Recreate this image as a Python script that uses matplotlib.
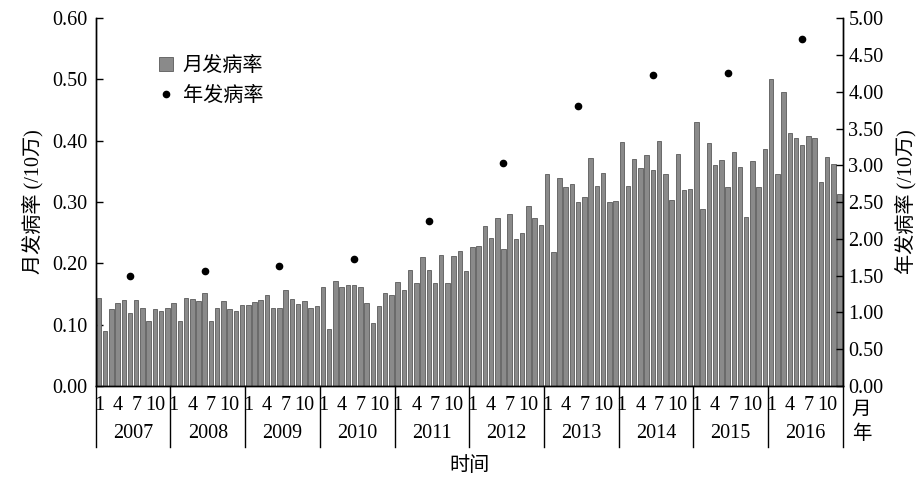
import numpy as np
import matplotlib
matplotlib.use("Agg")
import matplotlib.pyplot as plt
from matplotlib.patches import Patch
from matplotlib.lines import Line2D
import matplotlib.transforms as mtransforms

# Monthly incidence (per 100k), Jan..Dec for each year
years = [2007, 2008, 2009, 2010, 2011, 2012, 2013, 2014, 2015, 2016]
monthly_rate = {
    2007: [0.144, 0.090, 0.125, 0.135, 0.141, 0.119, 0.141, 0.128, 0.106, 0.125, 0.122, 0.128],
    2008: [0.135, 0.106, 0.144, 0.142, 0.139, 0.152, 0.106, 0.127, 0.139, 0.125, 0.123, 0.132],
    2009: [0.132, 0.137, 0.141, 0.149, 0.127, 0.127, 0.157, 0.142, 0.133, 0.138, 0.128, 0.130],
    2010: [0.162, 0.093, 0.171, 0.162, 0.165, 0.164, 0.162, 0.135, 0.103, 0.130, 0.152, 0.149],
    2011: [0.170, 0.156, 0.189, 0.168, 0.210, 0.189, 0.168, 0.213, 0.168, 0.212, 0.220, 0.188],
    2012: [0.227, 0.229, 0.261, 0.241, 0.274, 0.223, 0.280, 0.240, 0.250, 0.293, 0.274, 0.262],
    2013: [0.345, 0.219, 0.339, 0.325, 0.329, 0.300, 0.308, 0.372, 0.327, 0.348, 0.300, 0.302],
    2014: [0.398, 0.326, 0.370, 0.355, 0.377, 0.353, 0.400, 0.345, 0.303, 0.378, 0.320, 0.321],
    2015: [0.431, 0.288, 0.396, 0.361, 0.369, 0.325, 0.381, 0.358, 0.275, 0.367, 0.325, 0.387],
    2016: [0.501, 0.345, 0.479, 0.412, 0.405, 0.393, 0.407, 0.405, 0.333, 0.374, 0.362, 0.313],
}
# Annual incidence (per 100k)
annual_rate = [1.50, 1.56, 1.63, 1.73, 2.24, 3.03, 3.80, 4.23, 4.26, 4.72]
month_labels = ["1", "4", "7", "10"]
left_ticks = [0.00, 0.10, 0.20, 0.30, 0.40, 0.50, 0.60]
right_ticks = [0.00, 0.50, 1.00, 1.50, 2.00, 2.50, 3.00, 3.50, 4.00, 4.50, 5.00]

SERIF = ["Liberation Serif", "Noto Sans CJK SC"]
CJK = ["Noto Sans CJK SC", "DejaVu Sans"]
FS = 14.5

monthly = np.concatenate([monthly_rate[y] for y in years])
x = np.arange(len(monthly))

fig = plt.figure(figsize=(9.21, 4.78), dpi=100)
ax = fig.add_axes([0.104, 0.1925, 0.811, 0.7695])
ax2 = ax.twinx()

ax.bar(x, monthly, width=0.72, color="#8a8a8a", edgecolor="#5a5a5a", linewidth=0.6, zorder=2)
dot_x = [12 * i + 5 for i in range(len(years))]
ax2.plot(dot_x, annual_rate, linestyle="none", marker="o", markersize=4.5, color="black", zorder=3)

ax.set_xlim(-0.5, len(monthly) - 0.5)
ax.set_ylim(0, 0.6)
ax2.set_ylim(0, 5.0)
ax.set_xticks([])

ax.set_yticks(left_ticks)
ax.set_yticklabels([f"{t:.2f}" for t in left_ticks], fontfamily="Liberation Serif", fontsize=FS)
ax2.set_yticks(right_ticks)
ax2.set_yticklabels([f"{t:.2f}" for t in right_ticks], fontfamily="Liberation Serif", fontsize=FS)
ax.tick_params(axis="y", direction="in", length=5, width=1, pad=6)
ax2.tick_params(axis="y", direction="in", length=5, width=1, pad=4)

for a in (ax, ax2):
    a.spines["top"].set_visible(False)
    for s in ("left", "right", "bottom"):
        a.spines[s].set_linewidth(1.0)

ax.set_ylabel("月发病率 (/10万)", family=SERIF, fontsize=FS, labelpad=6)
ax2.set_ylabel("年发病率 (/10万)", family=SERIF, fontsize=FS, labelpad=8)

# Category axis: month numbers, year names and separators below the plot
trans = mtransforms.blended_transform_factory(ax.transData, ax.transAxes)
for k, yr in enumerate(years):
    base = 12 * k
    for j, lab in enumerate(month_labels):
        ax.text(base + 3 * j, -0.052, lab, transform=trans, ha="center", va="center",
                fontfamily="Liberation Serif", fontsize=FS, clip_on=False)
    ax.text(base + 5.5, -0.128, str(yr), transform=trans, ha="center", va="center",
            fontfamily="Liberation Serif", fontsize=FS, clip_on=False)
for k in range(len(years) + 1):
    xs = 12 * k - 0.5
    ax.add_line(Line2D([xs, xs], [0, -0.165], transform=trans, color="black",
                       linewidth=1.0, clip_on=False))

ax.text(1.025, -0.063, "月", transform=ax.transAxes, ha="center", va="center",
        family=CJK, fontsize=FS - 0.5, clip_on=False)
ax.text(1.025, -0.13, "年", transform=ax.transAxes, ha="center", va="center",
        family=CJK, fontsize=FS - 0.5, clip_on=False)
ax.text(0.5, -0.215, "时间", transform=ax.transAxes, ha="center", va="center",
        family=CJK, fontsize=FS, clip_on=False)

handles = [
    Patch(facecolor="#8a8a8a", edgecolor="#5a5a5a", linewidth=0.6, label="月发病率"),
    Line2D([], [], linestyle="none", marker="o", markersize=4.5, color="black", label="年发病率"),
]
leg = ax.legend(handles=handles, loc="upper left", bbox_to_anchor=(0.06, 0.95),
                frameon=False, prop={"family": CJK, "size": FS},
                handlelength=0.7, handleheight=0.7, handletextpad=0.5, labelspacing=0.45)

fig.savefig("out.png", dpi=100)
